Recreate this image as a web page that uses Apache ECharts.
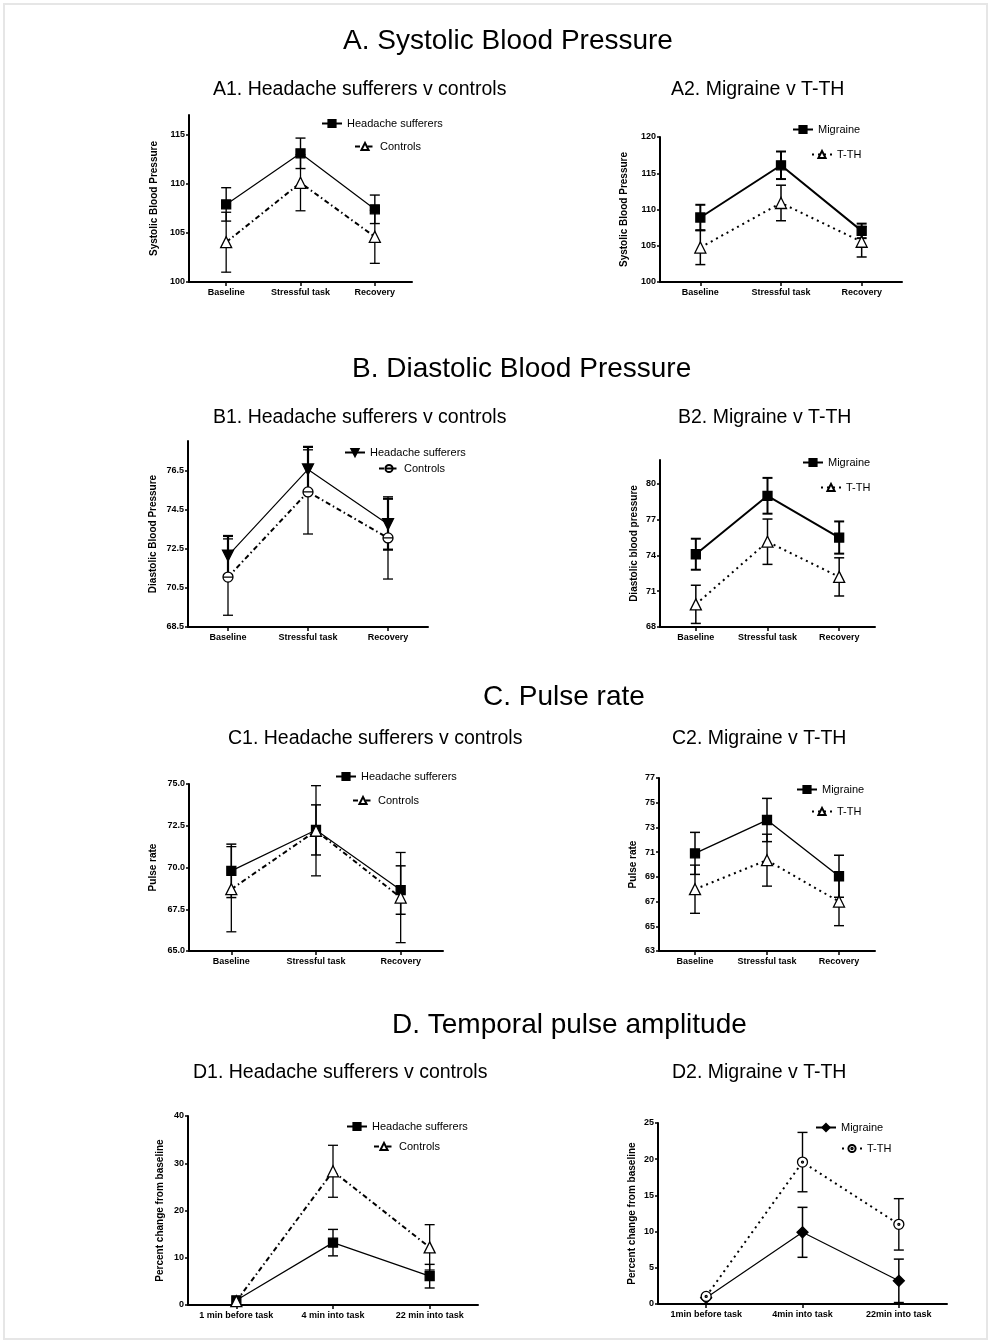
<!DOCTYPE html>
<html>
<head>
<meta charset="utf-8">
<title>Cardiovascular responses to a stressful task</title>
<script src="https://cdn.jsdelivr.net/npm/echarts@6/dist/echarts.min.js"></script>
<style>
  html, body { margin: 0; padding: 0; background: #fff; }
  #wrap { position: relative; width: 990px; height: 1342px; }
  #frame { position: absolute; left: 3px; top: 3px; width: 981px; height: 1333px; border: 2px solid #e6e6e6; pointer-events: none; }
  #chart { position: absolute; left: 0; top: 0; width: 990px; height: 1342px; }
</style>
</head>
<body>
<div id="wrap">
  <div id="chart"></div>
  <div id="frame"></div>
</div>
<script>
// ---- categories ----
const catsBP = ['Baseline', 'Stressful task', 'Recovery'];
const catsD1 = ['1 min before task', '4 min into task', '22 min into task'];
const catsD2 = ['1min before task', '4min into task', '22min into task'];

// ---- tick labels ----
const ticksA1 = [100, 105, 110, 115];
const ticksA2 = [100, 105, 110, 115, 120];
const ticksB1 = [68.5, 70.5, 72.5, 74.5, 76.5];
const ticksB2 = [68, 71, 74, 77, 80];
const ticksC1 = [65, 67.5, 70, 72.5, 75];
const ticksC2 = [63, 65, 67, 69, 71, 73, 75, 77];
const ticksD1 = [0, 10, 20, 30, 40];
const ticksD2 = [0, 5, 10, 15, 20, 25];

// ---- A. Systolic blood pressure (mean, SEM) ----
const headMeanA1 = [107.9, 113.1, 107.4];
const headErrA1  = [1.7, 1.55, 1.45];
const ctrlMeanA1 = [104.05, 110.1, 104.6];
const ctrlErrA1  = [3.05, 2.85, 2.7];
const migMeanA2  = [108.9, 116.1, 107.05];
const migErrA2   = [1.75, 1.9, 1.0];
const tthMeanA2  = [104.75, 110.9, 105.55];
const tthErrA2   = [2.35, 2.45, 2.1];

// ---- B. Diastolic blood pressure ----
const headMeanB1 = [72.15, 76.55, 73.75];
const headErrB1  = [1.0, 1.15, 1.3];
const ctrlMeanB1 = [71.05, 75.4, 73.05];
const ctrlErrB1  = [1.95, 2.15, 2.1];
const migMeanB2  = [74.1, 79.0, 75.5];
const migErrB2   = [1.3, 1.5, 1.35];
const tthMeanB2  = [69.9, 75.15, 72.2];
const tthErrB2   = [1.6, 1.9, 1.6];

// ---- C. Pulse rate ----
const headMeanC1 = [69.8, 72.25, 68.65];
const headErrC1  = [1.6, 1.5, 1.45];
const ctrlMeanC1 = [68.7, 72.2, 68.2];
const ctrlErrC1  = [2.55, 2.7, 2.7];
const migMeanC2  = [70.9, 73.6, 69.05];
const migErrC2   = [1.7, 1.75, 1.7];
const tthMeanC2  = [68.0, 70.35, 67.0];
const tthErrC2   = [1.95, 2.1, 1.95];

// ---- D. Temporal pulse amplitude (% change from baseline) ----
const headMeanD1 = [1.0, 13.2, 6.1];
const headErrD1  = [0, 2.8, 2.5];
const ctrlMeanD1 = [0.8, 28.3, 12.2];
const ctrlErrD1  = [0, 5.5, 4.8];
const migMeanD2  = [0.85, 9.9, 3.2];
const migErrD2   = [0, 3.45, 3.0];
const tthMeanD2  = [1.05, 19.6, 11.0];
const tthErrD2   = [0, 4.1, 3.55];

// ---- drawing styles ----
const FONT = '"Liberation Sans", Arial, Helvetica, sans-serif';
const DASH_DOT = [5, 3, 1.5, 3];
const DOTTED = [2, 4];
const CIRCLE_BAR = 'path://M0,10 A10,10 0 1,1 20,10 A10,10 0 1,1 0,10 Z M0,10 L20,10';
const CIRCLE_DOT = 'path://M0,10 A10,10 0 1,1 20,10 A10,10 0 1,1 0,10 Z M8,10 A2,2 0 1,1 12,10 A2,2 0 1,1 8,10 Z';

const filledSquare = { symbol: 'rect', size: 9, fill: '#000' };
const openTriangle = { symbol: 'triangle', size: 11, fill: '#fff' };
const downTriangle = { symbol: 'triangle', size: 11, fill: '#000', rotate: 180 };
const openCircleBar = { symbol: CIRCLE_BAR, size: 10, fill: '#fff' };
const filledDiamond = { symbol: 'diamond', size: 11, fill: '#000' };
const openCircleDot = { symbol: CIRCLE_DOT, size: 10, fill: '#fff' };

// Panel layout: box = [axis left x, axis top y, axis right x, axis bottom y]
const panels = [
  { key: 'A1', box: [189, 115, 412, 282], cats: catsBP, min: 100, max: 117, ticks: ticksA1, dec: 0,
    yName: 'Systolic Blood Pressure', nameGap: 30,
    groups: [
      { label: 'Headache sufferers', mean: headMeanA1, err: headErrA1, mk: filledSquare, line: 'solid', lw: 1.2, ew: 1.4, leg: [321, 125] },
      { label: 'Controls', mean: ctrlMeanA1, err: ctrlErrA1, mk: openTriangle, line: DASH_DOT, lw: 2, ew: 1.3, leg: [354, 148] }
    ] },
  { key: 'A2', box: [660, 137, 902, 282], cats: catsBP, min: 100, max: 120, ticks: ticksA2, dec: 0,
    yName: 'Systolic Blood Pressure', nameGap: 31,
    groups: [
      { label: 'Migraine', mean: migMeanA2, err: migErrA2, mk: filledSquare, line: 'solid', lw: 2, ew: 2, leg: [792, 131] },
      { label: 'T-TH', mean: tthMeanA2, err: tthErrA2, mk: openTriangle, line: DOTTED, lw: 2, ew: 1.5, leg: [811, 156] }
    ] },
  { key: 'B1', box: [188, 441, 428, 627], cats: catsBP, min: 68.5, max: 78, ticks: ticksB1, dec: 1,
    yName: 'Diastolic Blood Pressure', nameGap: 30,
    groups: [
      { label: 'Headache sufferers', mean: headMeanB1, err: headErrB1, mk: downTriangle, line: 'solid', lw: 1.2, ew: 2.2, leg: [344, 454] },
      { label: 'Controls', mean: ctrlMeanB1, err: ctrlErrB1, mk: openCircleBar, line: DASH_DOT, lw: 2, ew: 1.3, leg: [378, 470] }
    ] },
  { key: 'B2', box: [660, 460, 875, 627], cats: catsBP, min: 68, max: 82, ticks: ticksB2, dec: 0,
    yName: 'Diastolic blood pressure', nameGap: 21,
    groups: [
      { label: 'Migraine', mean: migMeanB2, err: migErrB2, mk: filledSquare, line: 'solid', lw: 2, ew: 2, leg: [802, 464] },
      { label: 'T-TH', mean: tthMeanB2, err: tthErrB2, mk: openTriangle, line: DOTTED, lw: 2, ew: 1.5, leg: [820, 489] }
    ] },
  { key: 'C1', box: [189, 784, 443, 951], cats: catsBP, min: 65, max: 75, ticks: ticksC1, dec: 1,
    yName: 'Pulse rate', nameGap: 31,
    groups: [
      { label: 'Headache sufferers', mean: headMeanC1, err: headErrC1, mk: filledSquare, line: 'solid', lw: 1.2, ew: 1.5, leg: [335, 778] },
      { label: 'Controls', mean: ctrlMeanC1, err: ctrlErrC1, mk: openTriangle, line: DASH_DOT, lw: 2, ew: 1.3, leg: [352, 802] }
    ] },
  { key: 'C2', box: [659, 778, 875, 951], cats: catsBP, min: 63, max: 77, ticks: ticksC2, dec: 0,
    yName: 'Pulse rate', nameGap: 21,
    groups: [
      { label: 'Migraine', mean: migMeanC2, err: migErrC2, mk: filledSquare, line: 'solid', lw: 1.4, ew: 1.5, leg: [796, 791] },
      { label: 'T-TH', mean: tthMeanC2, err: tthErrC2, mk: openTriangle, line: DOTTED, lw: 2, ew: 1.4, leg: [811, 813] }
    ] },
  { key: 'D1', box: [188, 1116, 478, 1305], cats: catsD1, min: 0, max: 40, ticks: ticksD1, dec: 0,
    yName: 'Percent change from baseline', nameGap: 23,
    groups: [
      { label: 'Headache sufferers', mean: headMeanD1, err: headErrD1, mk: filledSquare, line: 'solid', lw: 1.2, ew: 1.4, leg: [346, 1128] },
      { label: 'Controls', mean: ctrlMeanD1, err: ctrlErrD1, mk: openTriangle, line: DASH_DOT, lw: 2, ew: 1.3, leg: [373, 1148] }
    ] },
  { key: 'D2', box: [658, 1123, 947, 1304], cats: catsD2, min: 0, max: 25, ticks: ticksD2, dec: 0,
    yName: 'Percent change from baseline', nameGap: 21,
    groups: [
      { label: 'Migraine', mean: migMeanD2, err: migErrD2, mk: filledDiamond, line: 'solid', lw: 1.2, ew: 1.5, leg: [815, 1129] },
      { label: 'T-TH', mean: tthMeanD2, err: tthErrD2, mk: openCircleDot, line: DOTTED, lw: 2, ew: 1.4, leg: [841, 1150] }
    ] }
];

const headings = [
  { text: 'A. Systolic Blood Pressure', left: 343, top: 27, size: 28 },
  { text: 'A1. Headache sufferers v controls', left: 213, top: 80, size: 19.5 },
  { text: 'A2. Migraine v T-TH', left: 671, top: 80, size: 19.5 },
  { text: 'B. Diastolic Blood Pressure', left: 352, top: 355, size: 28 },
  { text: 'B1. Headache sufferers v controls', left: 213, top: 408, size: 19.5 },
  { text: 'B2. Migraine v T-TH', left: 678, top: 408, size: 19.5 },
  { text: 'C. Pulse rate', left: 483, top: 683, size: 28 },
  { text: 'C1. Headache sufferers v controls', left: 228, top: 729, size: 19.5 },
  { text: 'C2. Migraine v T-TH', left: 672, top: 729, size: 19.5 },
  { text: 'D. Temporal pulse amplitude', left: 392, top: 1011, size: 28 },
  { text: 'D1. Headache sufferers v controls', left: 193, top: 1063, size: 19.5 },
  { text: 'D2. Migraine v T-TH', left: 672, top: 1063, size: 19.5 }
];

function errorBarRenderer(capHalf, lineWidth) {
  return function (params, api) {
    const x = api.value(0);
    const lo = api.coord([x, api.value(1)]);
    const hi = api.coord([x, api.value(2)]);
    const st = { stroke: '#000', lineWidth: lineWidth };
    return {
      type: 'group',
      children: [
        { type: 'line', shape: { x1: lo[0], y1: lo[1], x2: hi[0], y2: hi[1] }, style: st },
        { type: 'line', shape: { x1: hi[0] - capHalf, y1: hi[1], x2: hi[0] + capHalf, y2: hi[1] }, style: st },
        { type: 'line', shape: { x1: lo[0] - capHalf, y1: lo[1], x2: lo[0] + capHalf, y2: lo[1] }, style: st }
      ]
    };
  };
}

const grids = [], xAxes = [], yAxes = [], series = [], legends = [];
const labelOf = {};

panels.forEach((p, i) => {
  const [x0, y0, x1, y1] = p.box;
  grids.push({ left: x0, top: y0, width: x1 - x0, height: y1 - y0, containLabel: false, outerBoundsMode: 'none' });

  xAxes.push({
    type: 'category', gridIndex: i, data: p.cats, boundaryGap: true,
    axisLine: { show: true, lineStyle: { color: '#000', width: 2 } },
    axisTick: { show: true, alignWithLabel: true, length: 4, lineStyle: { color: '#000', width: 1.5 } },
    axisLabel: { color: '#000', fontFamily: FONT, fontWeight: 'bold', fontSize: 9, margin: 6, interval: 0 },
    splitLine: { show: false }
  });

  yAxes.push({
    type: 'value', gridIndex: i, min: p.min, max: p.max,
    name: p.yName, nameLocation: 'middle', nameGap: p.nameGap,
    nameTextStyle: { color: '#000', fontFamily: FONT, fontWeight: 'bold', fontSize: 10 },
    axisLine: { show: true, lineStyle: { color: '#000', width: 2 } },
    axisTick: { show: true, length: 3, customValues: p.ticks, lineStyle: { color: '#000', width: 1.5 } },
    axisLabel: {
      customValues: p.ticks, color: '#000', fontFamily: FONT, fontWeight: 'bold', fontSize: 9, margin: 4,
      formatter: v => p.dec ? Number(v).toFixed(p.dec) : String(v)
    },
    splitLine: { show: false }
  });

  p.groups.forEach((g) => {
    const sname = p.key + ':' + g.label;
    labelOf[sname] = g.label;

    // error bars behind the markers
    series.push({
      type: 'custom', xAxisIndex: i, yAxisIndex: i, z: 1, silent: true,
      renderItem: errorBarRenderer(5, g.ew),
      encode: { x: 0, y: [1, 2] },
      data: g.mean.map((m, k) => [k, m - g.err[k], m + g.err[k]]).filter((d, k) => g.err[k] > 0)
    });

    series.push({
      type: 'line', name: sname, xAxisIndex: i, yAxisIndex: i, z: 3,
      data: g.mean,
      symbol: g.mk.symbol, symbolSize: g.mk.size, symbolRotate: g.mk.rotate || 0,
      showAllSymbol: true, animation: false,
      lineStyle: { color: '#000', width: g.lw, type: g.line },
      itemStyle: { color: g.mk.fill, borderColor: '#000', borderWidth: 1.3, opacity: 1 },
      emphasis: { disabled: true }
    });

    legends.push({
      data: [sname], left: g.leg[0], top: g.leg[1] - 7, padding: 0,
      itemWidth: 20, itemHeight: 9, selectedMode: false,
      formatter: n => labelOf[n],
      textStyle: { color: '#000', fontFamily: FONT, fontSize: 11 }
    });
  });
});

const chart = echarts.init(document.getElementById('chart'), null, { renderer: 'canvas' });
chart.setOption({
  backgroundColor: '#fff',
  animation: false,
  title: headings.map(h => ({
    text: h.text, left: h.left, top: h.top, padding: 0,
    textStyle: { color: '#000', fontFamily: FONT, fontWeight: 'normal', fontSize: h.size }
  })),
  legend: legends,
  grid: grids,
  xAxis: xAxes,
  yAxis: yAxes,
  series: series
});
</script>
</body>
</html>
